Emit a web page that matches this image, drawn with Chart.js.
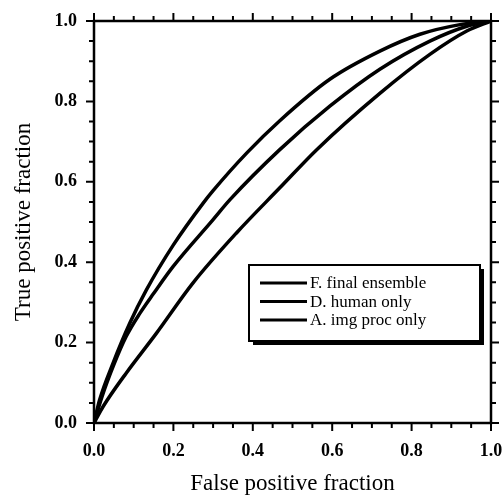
<!DOCTYPE html>
<html>
<head>
<meta charset="utf-8">
<script src="https://cdn.jsdelivr.net/npm/chart.js@4"></script>
<style>
  html, body { margin: 0; padding: 0; background: #fff; }
  #wrap { width: 504px; height: 495px; }
</style>
</head>
<body>
<div id="wrap"><canvas id="myChart" width="504" height="495"></canvas></div>
<script>
// ROC curves
const seriesLabels = ['F. final ensemble', 'D. human only', 'A. img proc only'];

const fprFinal = [0, 0.014, 0.048, 0.09, 0.132, 0.2, 0.275, 0.3, 0.385, 0.468, 0.594, 0.72, 0.821, 0.922, 1];
const tprFinal = [0, 0.057, 0.149, 0.248, 0.331, 0.443, 0.547, 0.578, 0.672, 0.752, 0.855, 0.925, 0.967, 0.991, 1];

const fprHuman = [0, 0.02, 0.05, 0.081, 0.115, 0.15, 0.199, 0.3, 0.342, 0.468, 0.594, 0.72, 0.846, 0.939, 1];
const tprHuman = [0, 0.065, 0.145, 0.215, 0.272, 0.322, 0.389, 0.506, 0.555, 0.68, 0.788, 0.88, 0.95, 0.987, 1];

const fprImg = [0, 0.023, 0.081, 0.157, 0.249, 0.36, 0.468, 0.561, 0.72, 0.846, 0.939, 1];
const tprImg = [0, 0.041, 0.124, 0.223, 0.348, 0.474, 0.585, 0.68, 0.82, 0.917, 0.975, 1];

const axisMin = 0;
const axisMax = 1;
const minorStep = 0.05;
const majorStep = 0.2;

function toPoints(xs, ys) {
    return xs.map((x, i) => ({ x: x, y: ys[i] }));
}

function isMajor(v) {
    const k = v / majorStep;
    return Math.abs(k - Math.round(k)) < 1e-6;
}

const serif = "'Liberation Serif', 'DejaVu Serif', serif";

// frame, outward ticks on all four sides, and the boxed legend
const framePlugin = {
    id: 'framePlugin',
    afterDraw(chart) {
        const c = chart.ctx;
        const a = chart.chartArea;
        const xs = chart.scales.x;
        const ys = chart.scales.y;
        c.save();
        c.strokeStyle = '#000';
        c.lineWidth = 2.5;
        c.strokeRect(a.left, a.top, a.right - a.left, a.bottom - a.top);

        c.lineWidth = 2;
        c.beginPath();
        xs.ticks.forEach(t => {
            const px = xs.getPixelForValue(t.value);
            const len = isMajor(t.value) ? 8 : 5;
            c.moveTo(px, a.bottom); c.lineTo(px, a.bottom + len);
            c.moveTo(px, a.top); c.lineTo(px, a.top - len);
        });
        ys.ticks.forEach(t => {
            const py = ys.getPixelForValue(t.value);
            const len = isMajor(t.value) ? 8 : 5;
            c.moveTo(a.left, py); c.lineTo(a.left - len, py);
            c.moveTo(a.right, py); c.lineTo(a.right + len, py);
        });
        c.stroke();

        // legend box
        const bx = 249, by = 265, bw = 231, bh = 76;
        c.fillStyle = '#000';
        c.fillRect(bx + 4, by + 4, bw, bh);
        c.fillStyle = '#fff';
        c.fillRect(bx, by, bw, bh);
        c.lineWidth = 2;
        c.strokeRect(bx, by, bw, bh);

        c.font = '17px ' + serif;
        c.textBaseline = 'middle';
        c.textAlign = 'left';
        chart.data.datasets.forEach((ds, i) => {
            const y = by + 18 + i * 18.5;
            c.strokeStyle = ds.borderColor;
            c.lineWidth = 3;
            c.beginPath();
            c.moveTo(bx + 11, y);
            c.lineTo(bx + 58, y);
            c.stroke();
            c.fillStyle = '#000';
            c.fillText(ds.label, bx + 61, y + 1);
        });
        c.restore();
    }
};

const ctx = document.getElementById('myChart').getContext('2d');
const myChart = new Chart(ctx, {
    type: 'line',
    data: {
        datasets: [
            { label: seriesLabels[0], data: toPoints(fprFinal, tprFinal) },
            { label: seriesLabels[1], data: toPoints(fprHuman, tprHuman) },
            { label: seriesLabels[2], data: toPoints(fprImg, tprImg) }
        ].map(d => Object.assign(d, {
            borderColor: '#000',
            borderWidth: 3.5,
            pointRadius: 0,
            fill: false,
            cubicInterpolationMode: 'monotone'
        }))
    },
    options: {
        responsive: false,
        animation: false,
        events: [],
        layout: { padding: { top: 21, right: 13, left: 0, bottom: 0 } },
        plugins: {
            legend: { display: false },
            tooltip: { enabled: false }
        },
        scales: {
            x: {
                type: 'linear',
                min: axisMin,
                max: axisMax,
                grid: { display: false, drawTicks: false },
                border: { display: false },
                ticks: {
                    stepSize: minorStep,
                    autoSkip: false,
                    maxRotation: 0,
                    padding: 18,
                    color: '#000',
                    font: { family: serif, size: 18, weight: 'bold' },
                    callback: v => isMajor(v) ? v.toFixed(1) : ''
                },
                title: {
                    display: true,
                    text: 'False positive fraction',
                    color: '#000',
                    font: { family: serif, size: 23, lineHeight: 1 },
                    padding: { top: 0, bottom: 0 }
                },
                afterFit: s => { s.height = 72; s.paddingLeft = 0; s.paddingRight = 0; }
            },
            y: {
                type: 'linear',
                min: axisMin,
                max: axisMax,
                grid: { display: false, drawTicks: false },
                border: { display: false },
                ticks: {
                    stepSize: minorStep,
                    autoSkip: false,
                    padding: 17,
                    color: '#000',
                    font: { family: serif, size: 18, weight: 'bold' },
                    callback: v => isMajor(v) ? v.toFixed(1) : ''
                },
                title: {
                    display: true,
                    text: 'True positive fraction',
                    color: '#000',
                    font: { family: serif, size: 23, lineHeight: 1 },
                    padding: { top: 12, bottom: 0 }
                },
                afterFit: s => { s.width = 94; s.paddingTop = 0; s.paddingBottom = 0; }
            }
        }
    },
    plugins: [framePlugin]
});
</script>
</body>
</html>
